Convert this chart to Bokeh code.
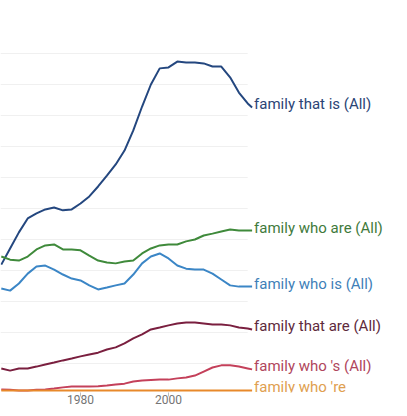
from bokeh.plotting import figure
from bokeh.models import Range1d, FixedTicker, ColumnDataSource, LabelSet
from bokeh.core.properties import value
from bokeh.embed import file_html
from bokeh.resources import INLINE

years = list(range(1962, 2019, 2)) + [2019]

family_that_is = [4.19, 4.71, 5.23, 5.68, 5.84, 5.97, 6.03, 5.94, 5.97, 6.16,
                  6.39, 6.71, 7.06, 7.42, 7.87, 8.52, 9.29, 10.00, 10.52, 10.55,
                  10.74, 10.71, 10.71, 10.68, 10.58, 10.58, 10.23, 9.74, 9.39, 9.26]
family_who_are = [4.45, 4.35, 4.32, 4.45, 4.68, 4.81, 4.84, 4.68, 4.68, 4.65,
                  4.48, 4.32, 4.26, 4.23, 4.29, 4.32, 4.55, 4.71, 4.81, 4.84,
                  4.84, 4.94, 5.00, 5.13, 5.19, 5.26, 5.32, 5.29, 5.29, 5.29]
family_who_is = [3.42, 3.35, 3.58, 3.90, 4.13, 4.16, 4.03, 3.87, 3.74, 3.68,
                 3.52, 3.39, 3.45, 3.52, 3.58, 3.87, 4.23, 4.45, 4.55, 4.39,
                 4.16, 4.06, 4.03, 4.03, 3.90, 3.71, 3.52, 3.48, 3.48, 3.48]
family_that_are = [0.84, 0.77, 0.84, 0.84, 0.90, 0.97, 1.03, 1.10, 1.16, 1.23,
                   1.29, 1.35, 1.45, 1.52, 1.65, 1.81, 1.94, 2.10, 2.16, 2.23,
                   2.29, 2.32, 2.32, 2.29, 2.26, 2.26, 2.23, 2.16, 2.13, 2.10]
family_who_s = [0.16, 0.15, 0.13, 0.13, 0.15, 0.16, 0.19, 0.23, 0.26, 0.26,
                0.26, 0.27, 0.29, 0.32, 0.35, 0.42, 0.45, 0.47, 0.48, 0.48,
                0.52, 0.55, 0.61, 0.74, 0.87, 0.94, 0.94, 0.90, 0.84, 0.81]
family_who_re = [0.13] * 30

labels = ["family that is (All)", "family who are (All)", "family who is (All)",
          "family that are (All)", "family who 's (All)", "family who 're"]
line_colors = ["#24477f", "#3f8a3b", "#3b86c6", "#7a1f3f", "#c4405a", "#e8892b"]
text_colors = ["#2b4475", "#3f7a3c", "#3f7fb8", "#5e2a3c", "#b0465c", "#e0a050"]
all_series = [family_that_is, family_who_are, family_who_is,
              family_that_are, family_who_s, family_who_re]

W, H = 399, 408
BOTTOM = 16
PX_PER_YEAR = 4.4
PX_PER_UNIT = 31.0
x_start = 1980 - 80 / PX_PER_YEAR
y_start = 2 / PX_PER_UNIT   # value 0 sits 2px below the frame's bottom edge

p = figure(width=W, height=H, output_backend="svg", toolbar_location=None,
           x_range=Range1d(x_start, x_start + W / PX_PER_YEAR),
           y_range=Range1d(y_start, y_start + (H - BOTTOM) / PX_PER_UNIT),
           y_axis_location=None,
           min_border_left=0, min_border_right=0, min_border_top=0,
           min_border_bottom=BOTTOM)
p.outline_line_color = None
p.grid.visible = False
p.background_fill_color = "white"
p.border_fill_color = "white"

# faint horizontal gridlines, only across the data span
gy = list(range(1, 12))
p.segment(x0=[x_start] * len(gy), x1=[2018] * len(gy), y0=gy, y1=gy,
          line_color="#f0f0f0", line_width=1)

for vals, col in zip(all_series, line_colors):
    p.line(years, vals, line_color=col, line_width=2)

ends = [s[-1] for s in all_series]
src = ColumnDataSource(dict(x=[years[-1]] * len(labels), y=ends, t=labels,
                            c=text_colors))
p.add_layout(LabelSet(x="x", y="y", text="t", source=src, text_color="c",
                      x_offset=2, y_offset=3, text_baseline="middle",
                      text_align="left", text_font=value("Roboto"),
                      text_font_size=value("15px")))

ax = p.xaxis[0]
ax.ticker = FixedTicker(ticks=[1960, 1980, 2000])
ax.axis_line_color = None
ax.major_tick_line_color = "#bdbdbd"
ax.major_tick_out = 4
ax.major_tick_in = 0
ax.minor_tick_line_color = None
ax.major_label_standoff = -2
ax.major_label_text_font = "Roboto"
ax.major_label_text_font_size = "12px"
ax.major_label_text_color = "#757575"

open("out.html", "w").write(file_html(p, INLINE))
